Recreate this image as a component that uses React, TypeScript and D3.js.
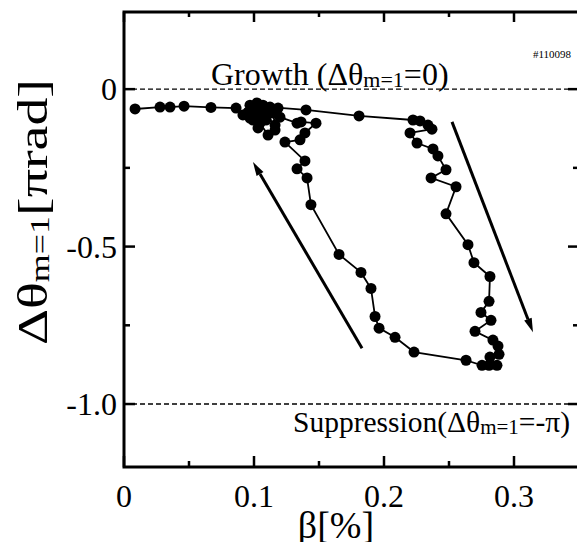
import React from "react";
import * as d3 from "d3";

// ---- data (β [%], Δθ_m=1 [π rad]) in time order ----
const beta: number[] = [
  0.0085, 0.0277, 0.0354, 0.0462, 0.0669, 0.0862, 0.0915, 0.0969, 0.1023, 0.1069,
  0.1123, 0.14, 0.1808, 0.2223, 0.2277, 0.2338, 0.2369, 0.22, 0.2254, 0.2377,
  0.2415, 0.2477, 0.2362, 0.2554, 0.2477, 0.2646, 0.2692, 0.2815, 0.2808, 0.2746,
  0.2823, 0.27, 0.2838, 0.2877, 0.2885, 0.2815, 0.2869, 0.2808, 0.2754, 0.2631,
  0.2231, 0.2085, 0.1962, 0.1931, 0.19, 0.1823, 0.1654, 0.1438, 0.1408, 0.1331,
  0.1392, 0.1238, 0.1354, 0.1392, 0.1477, 0.1362, 0.1331, 0.12, 0.1146, 0.1162,
  0.1108, 0.1046, 0.0992, 0.0954, 0.1008, 0.1062, 0.1092, 0.104, 0.11, 0.1162,
  0.1185, 0.1085, 0.0969, 0.1031,
];
const dtheta: number[] = [
  -0.063, -0.057, -0.057, -0.054, -0.058, -0.06, -0.082, -0.051, -0.044, -0.051,
  -0.057, -0.066, -0.085, -0.098, -0.101, -0.114, -0.127, -0.139, -0.171, -0.19,
  -0.212, -0.256, -0.282, -0.31, -0.396, -0.494, -0.551, -0.595, -0.674, -0.709,
  -0.734, -0.769, -0.797, -0.816, -0.842, -0.851, -0.877, -0.877, -0.877, -0.861,
  -0.835, -0.788, -0.759, -0.722, -0.633, -0.582, -0.525, -0.367, -0.282, -0.253,
  -0.228, -0.168, -0.161, -0.139, -0.108, -0.104, -0.108, -0.089, -0.076, -0.114,
  -0.146, -0.108, -0.098, -0.073, -0.066, -0.082, -0.098, -0.09, -0.07, -0.13,
  -0.06, -0.066, -0.092, -0.123,
];

// arrows: [x1, y1, x2 (head), y2 (head)]
const arrows: number[][] = [
  [0.2523, -0.104, 0.3146, -0.772],
  [0.1831, -0.823, 0.0992, -0.231],
];

const xMajor = [0, 0.1, 0.2, 0.3];
const xMinor = [0.05, 0.15, 0.25];
const xTickLabels = ["0", "0.1", "0.2", "0.3"];
const yMajor = [0, -0.5, -1.0];
const yMinor = [-0.25, -0.75];
const yTickLabels = ["0", "-0.5", "-1.0"];
const refLines = [0, -1];

const W = 577;
const H = 542;
const L = 124, R = 579, T = 12, B = 467;
const FONT = "'Liberation Serif', 'Times New Roman', Times, serif";

export default function App() {
  const x = d3.scaleLinear().domain([0, 0.35]).range([L, R]);
  const y = d3.scaleLinear().domain([-1.2, 0.245]).range([B, T]);
  const pts = beta.map((b, i) => [b, dtheta[i]] as [number, number]);
  const line = d3.line<[number, number]>().x((d) => x(d[0])).y((d) => y(d[1]));

  const arrowHead = (a: number[]) => {
    const x1 = x(a[0]), y1 = y(a[1]), x2 = x(a[2]), y2 = y(a[3]);
    const ang = Math.atan2(y2 - y1, x2 - x1);
    const len = 14, half = 4;
    const bx = x2 - len * Math.cos(ang), by = y2 - len * Math.sin(ang);
    const px = -Math.sin(ang) * half, py = Math.cos(ang) * half;
    return { x1, y1, bx, by, x2, y2, pts: `${x2},${y2} ${bx + px},${by + py} ${bx - px},${by - py}` };
  };

  return (
    <svg
      width={W}
      height={H}
      style={{ position: "absolute", left: 0, top: 0, display: "block", background: "#fff", fontFamily: FONT }}
    >
      <rect x={0} y={0} width={W} height={H} fill="#fff" />
      {/* reference dashed lines */}
      {refLines.map((v) => (
        <line key={v} x1={L} x2={R} y1={y(v)} y2={y(v)} stroke="#000" strokeWidth={1.3} strokeDasharray="5,3" />
      ))}
      {/* frame */}
      <rect x={L} y={T} width={R - L} height={B - T} fill="none" stroke="#000" strokeWidth={3} />
      {/* x ticks */}
      {xMajor.map((v) => (
        <g key={"xM" + v}>
          <line x1={x(v)} x2={x(v)} y1={B} y2={B - 11} stroke="#000" strokeWidth={2.5} />
          <line x1={x(v)} x2={x(v)} y1={T} y2={T + 10} stroke="#000" strokeWidth={2.5} />
        </g>
      ))}
      {xMinor.map((v) => (
        <g key={"xm" + v}>
          <line x1={x(v)} x2={x(v)} y1={B} y2={B - 6} stroke="#000" strokeWidth={2.5} />
          <line x1={x(v)} x2={x(v)} y1={T} y2={T + 5} stroke="#000" strokeWidth={2.5} />
        </g>
      ))}
      {/* y ticks */}
      {yMajor.map((v) => (
        <g key={"yM" + v}>
          <line x1={L} x2={L + 11} y1={y(v)} y2={y(v)} stroke="#000" strokeWidth={2.5} />
          <line x1={R} x2={R - 11} y1={y(v)} y2={y(v)} stroke="#000" strokeWidth={2.5} />
        </g>
      ))}
      {yMinor.map((v) => (
        <g key={"ym" + v}>
          <line x1={L} x2={L + 6} y1={y(v)} y2={y(v)} stroke="#000" strokeWidth={2.5} />
          <line x1={R} x2={R - 6} y1={y(v)} y2={y(v)} stroke="#000" strokeWidth={2.5} />
        </g>
      ))}
      {/* tick labels */}
      {xMajor.map((v, i) => (
        <text key={"xl" + v} x={x(v)} y={507} fontSize={32} textAnchor="middle">
          {xTickLabels[i]}
        </text>
      ))}
      {yMajor.map((v, i) => (
        <text key={"yl" + v} x={117} y={y(v) + 11} fontSize={32} textAnchor="end">
          {yTickLabels[i]}
        </text>
      ))}
      {/* axis titles */}
      <text x={336} y={538} fontSize={38} textAnchor="middle">
        β[%]
      </text>
      <text transform="translate(47,212) rotate(-90)" fontSize={42} textAnchor="middle" textLength={266} lengthAdjust="spacingAndGlyphs">
        Δθ<tspan fontSize={27} dy={2}>m=1</tspan><tspan dy={-2}>[πrad]</tspan>
      </text>
      {/* annotations */}
      <text x={211} y={85} fontSize={32}>
        Growth (Δθ<tspan fontSize={22} dy={2}>m=1</tspan><tspan dy={-2}>=0)</tspan>
      </text>
      <text x={570} y={432} fontSize={29.5} textAnchor="end">
        Suppression(Δθ<tspan fontSize={21} dy={2}>m=1</tspan><tspan dy={-2}>=-π)</tspan>
      </text>
      <text x={571} y={58} fontSize={11} textAnchor="end">
        #110098
      </text>
      {/* arrows */}
      {arrows.map((a, i) => {
        const h = arrowHead(a);
        return (
          <g key={"ar" + i}>
            <line x1={h.x1} y1={h.y1} x2={h.bx} y2={h.by} stroke="#000" strokeWidth={3} />
            <polygon points={h.pts} fill="#000" />
          </g>
        );
      })}
      {/* data */}
      <path d={line(pts) || ""} fill="none" stroke="#000" strokeWidth={1.8} />
      {pts.map((p, i) => (
        <circle key={"p" + i} cx={x(p[0])} cy={y(p[1])} r={5.5} fill="#000" />
      ))}
    </svg>
  );
}
